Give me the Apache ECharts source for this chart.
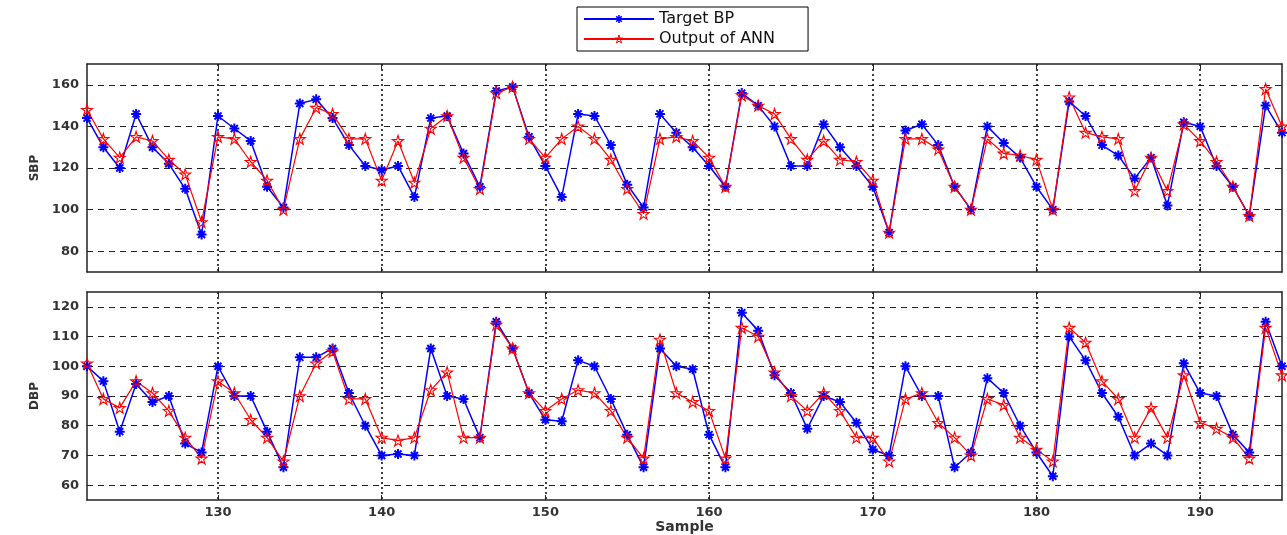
<!DOCTYPE html>
<html>
<head>
<meta charset="utf-8">
<script src="https://cdn.jsdelivr.net/npm/echarts@6/dist/echarts.min.js"></script>
<style>
  html, body { margin: 0; padding: 0; background: #fff; }
  #bp_chart { width: 1287px; height: 535px; }
</style>
</head>
<body>
<div id="bp_chart"></div>
<script>
// sample index (x)
let samples = [
    122, 123, 124, 125, 126, 127, 128, 129, 130, 131,
    132, 133, 134, 135, 136, 137, 138, 139, 140, 141,
    142, 143, 144, 145, 146, 147, 148, 149, 150, 151,
    152, 153, 154, 155, 156, 157, 158, 159, 160, 161,
    162, 163, 164, 165, 166, 167, 168, 169, 170, 171,
    172, 173, 174, 175, 176, 177, 178, 179, 180, 181,
    182, 183, 184, 185, 186, 187, 188, 189, 190, 191,
    192, 193, 194, 195
]

// SBP
let targetSBP = [
    144, 130, 120, 146, 130, 122, 110, 88, 145, 139,
    133, 111, 101, 151, 153, 144, 131, 121, 119, 121,
    106, 144, 145, 127, 111, 157, 159, 135, 121, 106,
    146, 145, 131, 112, 101, 146, 137, 130, 121, 111,
    156, 150, 140, 121, 121, 141, 130, 121, 111, 89,
    138, 141, 131, 111, 100, 140, 132, 125, 111, 100,
    152, 145, 131, 126, 115, 125, 102, 142, 140, 121,
    111, 97, 150, 137
]
let annSBP = [
    148, 134, 125, 135, 133, 124, 117, 94, 135, 134,
    123, 114, 100, 134, 149, 146, 134, 134, 114, 133,
    113, 139, 145, 125, 110, 156, 159, 134, 125, 134,
    140, 134, 124, 110, 98, 134, 135, 133, 125, 111,
    155, 150, 146, 134, 124, 133, 124, 123, 114, 89,
    134, 134, 129, 111, 100, 134, 127, 126, 124, 100,
    154, 137, 135, 134, 109, 125, 109, 141, 133, 123,
    111, 97, 158, 140
]

// DBP
let targetDBP = [
    100, 95, 78, 94, 88, 90, 74, 71, 100, 90,
    90, 78, 66, 103, 103, 106, 91, 80, 70, 70.5,
    70, 106, 90, 89, 76, 115, 106, 91, 82, 81.5,
    102, 100, 89, 77, 66, 106, 100, 99, 77, 66,
    118, 112, 97, 91, 79, 90, 88, 81, 72, 70,
    100, 90, 90, 66, 71, 96, 91, 80, 71, 63,
    110, 102, 91, 83, 70, 74, 70, 101, 91, 90,
    77, 71, 115, 100
]
let annDBP = [
    101, 89, 86, 95, 91, 85, 76, 69, 95, 91,
    82, 76, 68, 90, 101, 105, 89, 89, 76, 75,
    76, 92, 98, 76, 76, 114, 106, 91, 85, 89,
    92, 91, 85, 76, 69, 109, 91, 88, 85, 69,
    113, 110, 98, 90, 85, 91, 85, 76, 76, 68,
    89, 91, 81, 76, 70, 89, 87, 76, 72, 68,
    113, 108, 95, 89, 76, 86, 76, 97, 81, 79,
    76, 69, 113, 97
]

// tick labels
let xTicks = [130, 140, 150, 160, 170, 180, 190]
let sbpTicks = [80, 100, 120, 140, 160]
let dbpTicks = [60, 70, 80, 90, 100, 110, 120]

// markers: asterisk (target) and pentagram (ann)
let asteriskPath = 'path://M-1,-5L1,-5L1,5L-1,5Z M-5,-1L5,-1L5,1L-5,1Z ' +
    'M-2.8,-4.2L4.2,2.8L2.8,4.2L-4.2,-2.8Z M2.8,-4.2L4.2,-2.8L-2.8,4.2L-4.2,2.8Z'
let starPath = 'path://M0,-10L2.245,-3.09L9.51,-3.09L3.63,1.18L5.88,8.09L0,3.82' +
    'L-5.88,8.09L-3.63,1.18L-9.51,-3.09L-2.245,-3.09Z'

let frameColor = '#222'
let labelFont = { fontFamily: 'DejaVu Sans', fontWeight: 'bold', fontSize: 13, color: '#333' }
let hollow = 'rgba(255,255,255,0)'

function pairs(xs, ys) {
    return xs.map(function (x, i) { return [x, ys[i]] })
}

function makeX(gridIndex, position, ticksShown, labels) {
    return {
        type: 'value', gridIndex: gridIndex, position: position,
        min: 122, max: 195,
        axisLine: { show: true, onZero: false, lineStyle: { color: frameColor, width: 1.5 } },
        axisTick: { show: true, inside: true, length: 5, customValues: xTicks, lineStyle: { color: frameColor } },
        axisLabel: Object.assign({ show: labels, margin: 6, customValues: xTicks }, labelFont),
        splitLine: {
            show: ticksShown,
            lineStyle: { color: '#111', type: [2, 3], width: 1.6 }
        }
    }
}

function makeY(gridIndex, position, min, max, ticks, name, gridShown) {
    return {
        type: 'value', gridIndex: gridIndex, position: position,
        min: min, max: max,
        name: name, nameLocation: 'middle', nameGap: 34,
        nameTextStyle: { fontFamily: 'DejaVu Sans', fontWeight: 'bold', fontSize: 12, color: '#333' },
        axisLine: { show: true, onZero: false, lineStyle: { color: frameColor, width: 1.5 } },
        axisTick: { show: true, inside: true, length: 5, customValues: ticks, lineStyle: { color: frameColor } },
        axisLabel: Object.assign({ show: gridShown, margin: 8, customValues: ticks }, labelFont),
        splitLine: {
            show: gridShown,
            lineStyle: { color: '#222', type: [6, 5], width: 1.2 }
        }
    }
}

let targetStyle = {
    type: 'line', name: 'Target BP',
    symbol: asteriskPath, symbolSize: 10,
    lineStyle: { color: '#0000ff', width: 1.5 },
    itemStyle: { color: '#0000ff' },
    animation: false
}
let annStyle = {
    type: 'line', name: 'Output of ANN',
    symbol: starPath, symbolSize: 11,
    lineStyle: { color: '#ff0000', width: 1.2 },
    itemStyle: { color: hollow, borderColor: '#ff0000', borderWidth: 1.1 },
    animation: false
}

let xBottom = makeX(1, 'bottom', true, true)
xBottom.name = 'Sample'
xBottom.nameLocation = 'middle'
xBottom.nameGap = 18
xBottom.nameTextStyle = { fontFamily: 'DejaVu Sans', fontWeight: 'bold', fontSize: 14, color: '#333' }

let option = {
    backgroundColor: '#fff',
    animation: false,
    legend: {
        left: 577, top: 7,
        orient: 'vertical',
        data: [
            { name: 'Target BP', itemStyle: { color: '#0000ff' } },
            { name: 'Output of ANN', itemStyle: { color: hollow, borderColor: '#ff0000', borderWidth: 1 } }
        ],
        backgroundColor: '#fff',
        borderColor: '#000', borderWidth: 1,
        padding: [4, 33, 4, 6],
        itemGap: 4, itemWidth: 70, itemHeight: 10,
        textStyle: { fontFamily: 'DejaVu Sans', fontSize: 16, color: '#111' }
    },
    grid: [
        { left: 87, top: 64, width: 1195, height: 208 },
        { left: 87, top: 292, width: 1195, height: 208 }
    ],
    xAxis: [
        makeX(0, 'bottom', true, false),
        xBottom,
        makeX(0, 'top', false, false),
        makeX(1, 'top', false, false)
    ],
    yAxis: [
        makeY(0, 'left', 70, 170, sbpTicks, 'SBP', true),
        makeY(1, 'left', 55, 125, dbpTicks, 'DBP', true),
        makeY(0, 'right', 70, 170, sbpTicks, '', false),
        makeY(1, 'right', 55, 125, dbpTicks, '', false)
    ],
    series: [
        Object.assign({ xAxisIndex: 0, yAxisIndex: 0, data: pairs(samples, targetSBP) }, targetStyle),
        Object.assign({ xAxisIndex: 0, yAxisIndex: 0, data: pairs(samples, annSBP) }, annStyle),
        Object.assign({ xAxisIndex: 1, yAxisIndex: 1, data: pairs(samples, targetDBP) }, targetStyle),
        Object.assign({ xAxisIndex: 1, yAxisIndex: 1, data: pairs(samples, annDBP) }, annStyle)
    ]
}

let myChart = echarts.init(document.getElementById('bp_chart'))
myChart.setOption(option)
</script>
</body>
</html>
